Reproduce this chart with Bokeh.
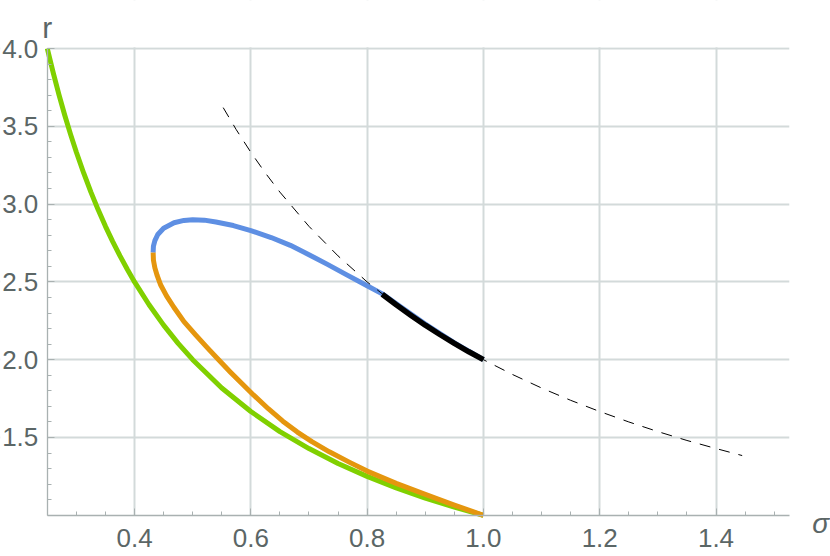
from bokeh.plotting import figure
from bokeh.models import Range1d, FixedTicker, PrintfTickFormatter, BoxAnnotation
from bokeh.core.properties import value
from bokeh.embed import file_html
from bokeh.resources import INLINE

# ---- data ----
green_sigma = [0.25, 0.26, 0.27, 0.28, 0.29, 0.30, 0.3125, 0.325, 0.3375, 0.35, 0.3625, 0.375,
               0.3875, 0.40, 0.425, 0.45, 0.475, 0.50, 0.55, 0.60, 0.65, 0.70, 0.75, 0.80,
               0.85, 0.90, 0.95, 1.00]
green_r = [4.000, 3.846, 3.704, 3.571, 3.448, 3.333, 3.200, 3.077, 2.963, 2.857, 2.759, 2.667,
           2.581, 2.500, 2.353, 2.222, 2.105, 2.000, 1.818, 1.667, 1.538, 1.429, 1.333, 1.250,
           1.176, 1.111, 1.053, 1.000]

orange_sigma = [0.432, 0.4325, 0.435, 0.439, 0.445, 0.455, 0.4676, 0.485, 0.505, 0.525, 0.545,
                0.565, 0.585, 0.605, 0.630, 0.655, 0.680, 0.705, 0.735, 0.770, 0.800, 0.850,
                0.900, 0.950, 1.000]
orange_r = [2.690, 2.640, 2.590, 2.540, 2.480, 2.410, 2.337, 2.245, 2.160, 2.078, 1.998,
            1.920, 1.845, 1.772, 1.685, 1.605, 1.535, 1.473, 1.408, 1.340, 1.284, 1.205,
            1.134, 1.066, 1.000]

blue_sigma = [0.432, 0.4325, 0.435, 0.440, 0.450, 0.468, 0.485, 0.500, 0.520, 0.540, 0.570,
              0.600, 0.635, 0.668, 0.700, 0.731, 0.765, 0.800, 0.826, 0.860, 0.900, 0.950, 1.000]
blue_r = [2.690, 2.730, 2.765, 2.805, 2.845, 2.880, 2.895, 2.900, 2.897, 2.885, 2.862,
          2.830, 2.785, 2.735, 2.675, 2.614, 2.545, 2.475, 2.423, 2.333, 2.229, 2.108, 2.000]

black_sigma = [0.826, 0.850, 0.875, 0.900, 0.925, 0.950, 0.975, 1.000]
black_r = [2.421, 2.353, 2.286, 2.222, 2.162, 2.105, 2.051, 2.000]

dash_sigma = [0.5525, 0.575, 0.60, 0.625, 0.65, 0.70, 0.75, 0.80, 0.85, 0.90, 0.95, 1.00,
              1.05, 1.10, 1.15, 1.20, 1.25, 1.30, 1.35, 1.40, 1.445]
dash_r = [3.620, 3.478, 3.333, 3.200, 3.077, 2.857, 2.667, 2.500, 2.353, 2.222, 2.105, 2.000,
          1.905, 1.818, 1.739, 1.667, 1.600, 1.538, 1.481, 1.429, 1.384]

x_ticks = [0.4, 0.6, 0.8, 1.0, 1.2, 1.4]
x_minor = [0.25, 0.30, 0.35, 0.45, 0.50, 0.55, 0.65, 0.70, 0.75, 0.85, 0.90, 0.95,
           1.05, 1.10, 1.15, 1.25, 1.30, 1.35, 1.45, 1.50]
y_ticks = [1.5, 2.0, 2.5, 3.0, 3.5, 4.0]
y_minor = [1.1, 1.2, 1.3, 1.4, 1.6, 1.7, 1.8, 1.9, 2.1, 2.2, 2.3, 2.4, 2.6, 2.7, 2.8, 2.9,
           3.1, 3.2, 3.3, 3.4, 3.6, 3.7, 3.8, 3.9]

# axes extent (plot region) and full canvas extent in data units
X_LO, X_HI = 0.25, 1.526
Y_LO, Y_HI = 1.0, 4.0
X_VIEW = (0.1695, 1.5969)
Y_VIEW = (0.7352, 4.3085)

GREEN = "#80D000"
ORANGE = "#E5960E"
BLUE = "#5E8FE3"
TEXT = "#5b6666"
AXIS = "#a9b1b1"
GRID = "#d3dada"

p = figure(width=830, height=556, output_backend="svg", toolbar_location=None,
           x_range=Range1d(*X_VIEW), y_range=Range1d(*Y_VIEW),
           min_border_left=0, min_border_right=0, min_border_top=0, min_border_bottom=0)
p.outline_line_color = None
p.background_fill_color = "white"
p.border_fill_color = "white"

p.xaxis.fixed_location = Y_LO
p.yaxis.fixed_location = X_LO
p.xaxis.bounds = (X_LO, X_HI)
p.yaxis.bounds = (Y_LO, Y_HI)

for ax, ticks, minor, standoff in ((p.xaxis[0], x_ticks, x_minor, 14),
                                   (p.yaxis[0], y_ticks, y_minor, 9)):
    ax.ticker = FixedTicker(ticks=ticks, minor_ticks=minor)
    ax.formatter = PrintfTickFormatter(format="%.1f")
    ax.axis_line_color = AXIS
    ax.axis_line_width = 1.3
    ax.major_tick_line_color = AXIS
    ax.minor_tick_line_color = AXIS
    ax.major_tick_in = 7
    ax.major_tick_out = 0
    ax.minor_tick_in = 4
    ax.minor_tick_out = 0
    ax.major_label_text_font = "Liberation Sans"
    ax.major_label_text_font_size = "26px"
    ax.major_label_text_color = TEXT
    ax.major_label_standoff = standoff

p.xgrid.grid_line_color = GRID
p.ygrid.grid_line_color = GRID
p.xgrid.grid_line_width = 2
p.ygrid.grid_line_width = 2

# white masks so that the grid only covers the plot region
eps_y = 0.008
for l, r, b, t in ((X_VIEW[0], X_LO, Y_VIEW[0], Y_VIEW[1]),
                   (X_HI, X_VIEW[1], Y_VIEW[0], Y_VIEW[1]),
                   (X_VIEW[0], X_VIEW[1], Y_VIEW[0], Y_LO),
                   (X_VIEW[0], X_VIEW[1], Y_HI + eps_y, Y_VIEW[1])):
    p.add_layout(BoxAnnotation(left=l, right=r, bottom=b, top=t, fill_color="white",
                               fill_alpha=1.0, line_color=None, level="underlay"))

p.line(green_sigma, green_r, line_color=GREEN, line_width=5, line_join="round")
p.line(orange_sigma, orange_r, line_color=ORANGE, line_width=5, line_join="round")
p.line(blue_sigma, blue_r, line_color=BLUE, line_width=5, line_join="round")
p.line(dash_sigma, dash_r, line_color="black", line_width=1, line_dash="11 9")
p.line(black_sigma, black_r, line_color="black", line_width=5.5, line_join="round")

p.text(x=[X_LO], y=[Y_HI], text=["r"], y_offset=-21, text_align="center",
       text_baseline="alphabetic", text_font=value("Liberation Sans"),
       text_font_size="30px", text_color=TEXT)
p.text(x=[X_HI], y=[Y_LO], text=["σ"], x_offset=23, y_offset=8, text_align="left",
       text_baseline="alphabetic", text_font=value("Liberation Sans"),
       text_font_style="italic", text_font_size="28px", text_color=TEXT)

open("out.html", "w").write(file_html(p, INLINE))
